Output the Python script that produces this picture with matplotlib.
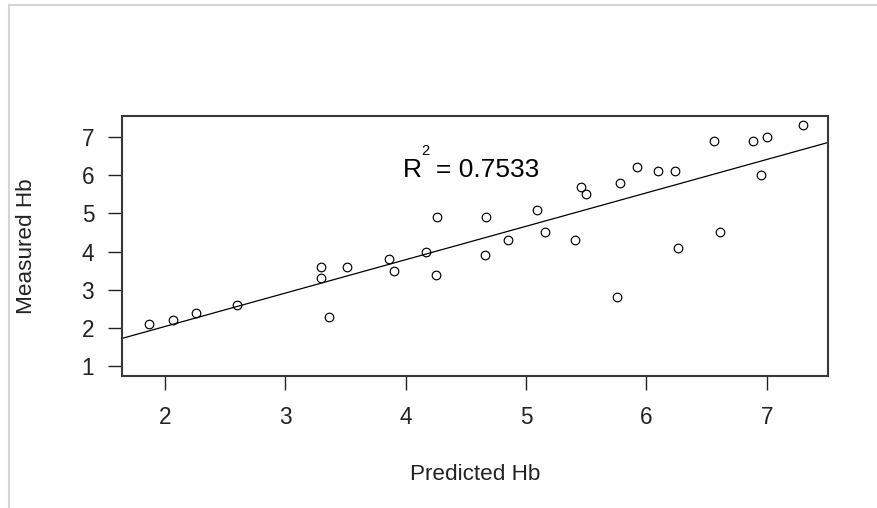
import numpy as np
import matplotlib
matplotlib.use("Agg")
import matplotlib.pyplot as plt
from matplotlib.lines import Line2D

plt.rcParams['font.family'] = ['Liberation Sans', 'DejaVu Sans']

predicted = [1.87, 2.07, 2.26, 2.60, 3.30, 3.30, 3.36, 3.51, 3.86, 3.90,
             4.17, 4.26, 4.25, 4.67, 4.66, 4.85, 5.09, 5.16, 5.41, 5.46,
             5.50, 5.76, 5.78, 5.92, 6.10, 6.24, 6.26, 6.56, 6.61, 6.89,
             7.00, 6.95, 7.30]
measured = [2.1, 2.2, 2.4, 2.6, 3.6, 3.3, 2.3, 3.6, 3.8, 3.5,
            4.0, 4.9, 3.4, 4.9, 3.9, 4.3, 5.1, 4.5, 4.3, 5.7,
            5.5, 2.8, 5.8, 6.2, 6.1, 6.1, 4.1, 6.9, 4.5, 6.9,
            7.0, 6.0, 7.3]
fit_intercept = 0.296
fit_slope = 0.873
x_ticks = [2, 3, 4, 5, 6, 7]
y_ticks = [1, 2, 3, 4, 5, 6, 7]
r2_label = "0.7533"
x_label = "Predicted Hb"
y_label = "Measured Hb"

W, H = 877, 508
fig = plt.figure(figsize=(W / 100, H / 100), dpi=100)
ax = fig.add_axes([122 / W, 1 - 376 / H, (828.3 - 122) / W, (376 - 115.7) / H])

ax.plot(predicted, measured, linestyle='none', marker='o', markersize=6.2,
        markerfacecolor='none', markeredgecolor='black', markeredgewidth=0.85)
ax.axline((0, fit_intercept), slope=fit_slope, color='black', linewidth=0.9)

ax.set_xlim(1.643, 7.512)
ax.set_ylim(0.748, 7.552)
ax.set_xticks(x_ticks)
ax.set_yticks(y_ticks)
ax.tick_params(axis='both', direction='out', length=10, width=1.0, labelsize=16.3,
               color='#222222', labelcolor='#222222')
ax.tick_params(axis='x', pad=11.5)
ax.tick_params(axis='y', pad=10)
for s in ax.spines.values():
    s.set_linewidth(1.5)
    s.set_color('#383838')

ax.set_xlabel(x_label, fontsize=16.2, color='#222222', labelpad=25)
ax.set_ylabel(y_label, fontsize=16.2, color='#222222', labelpad=32)

# R^2 annotation (anchored at left baseline of "R")
tx, ty = 3.978, 5.956
ax.annotate("R", (tx, ty), xytext=(0, 0), textcoords='offset pixels',
            fontsize=19, ha='left', va='baseline')
ax.annotate("2", (tx, ty), xytext=(18.5, 21.5), textcoords='offset pixels',
            fontsize=10.5, ha='left', va='baseline')
ax.annotate("= " + r2_label, (tx, ty), xytext=(33, 0), textcoords='offset pixels',
            fontsize=19, ha='left', va='baseline')

# image border
fig.add_artist(Line2D([9 / W, 1], [1 - 5 / H, 1 - 5 / H], color='#d4d4d4', linewidth=1.5,
                      transform=fig.transFigure))
fig.add_artist(Line2D([9 / W, 9 / W], [0, 1 - 5 / H], color='#d4d4d4', linewidth=1.5,
                      transform=fig.transFigure))

fig.savefig("out.png", dpi=100)
